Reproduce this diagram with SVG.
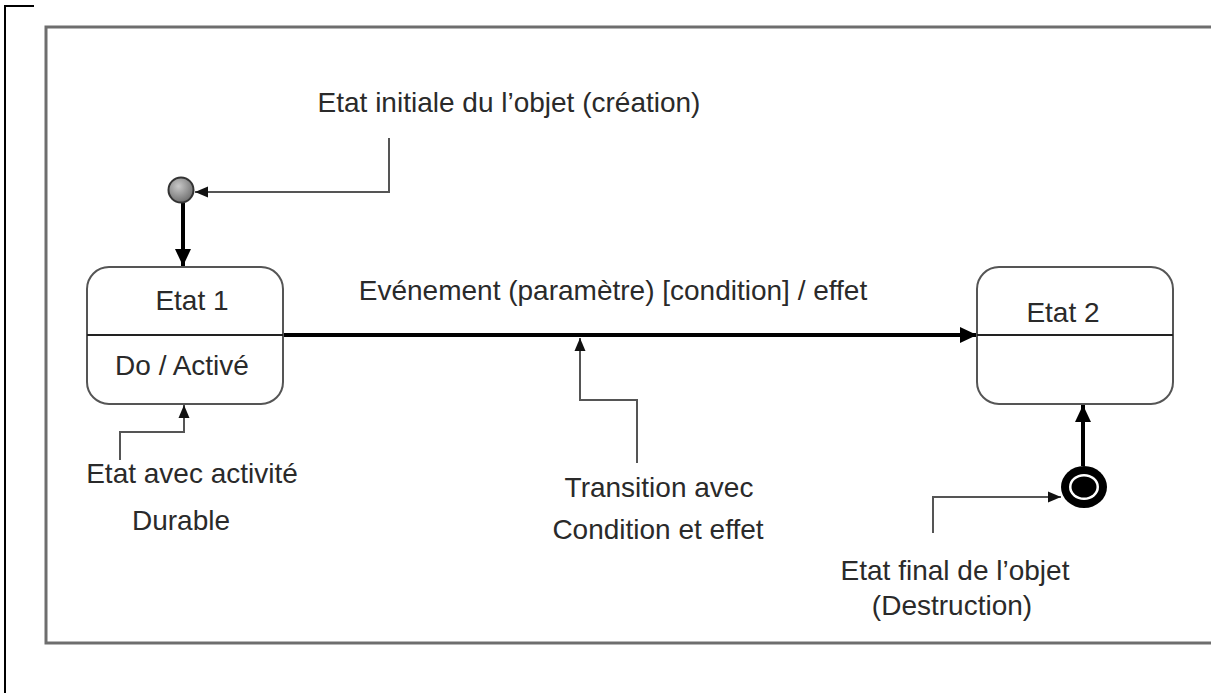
<svg xmlns="http://www.w3.org/2000/svg" width="1211" height="693" viewBox="0 0 1211 693">
  <style>
    text { font-family: "Liberation Sans", Arial, sans-serif; font-size: 28px; fill: #2a2a2a; text-anchor: middle; }
    .box { fill: #fff; stroke: #555; stroke-width: 2; }
    .div { stroke: #222; stroke-width: 2; }
    .thick { fill: none; stroke: #000; stroke-width: 4; }
    .call { fill: none; stroke: #555; stroke-width: 2; }
  </style>
  <defs>
    <marker id="big" markerUnits="userSpaceOnUse" markerWidth="18" markerHeight="18" viewBox="0 0 18 18" refX="17" refY="9" orient="auto">
      <path d="M0,1 L17,9 L0,17 Z" fill="#000"/>
    </marker>
    <marker id="small" markerUnits="userSpaceOnUse" markerWidth="14" markerHeight="14" viewBox="0 0 14 14" refX="13" refY="7" orient="auto">
      <path d="M0,1.5 L13,7 L0,12.5 Z" fill="#111"/>
    </marker>
    <radialGradient id="ini" cx="0.4" cy="0.35" r="0.7">
      <stop offset="0" stop-color="#c8c8c8"/>
      <stop offset="1" stop-color="#6a6a6a"/>
    </radialGradient>
  </defs>
  <rect width="1211" height="693" fill="#fff"/>
  <path d="M5,693 V6 H34" fill="none" stroke="#000" stroke-width="2"/>
  <rect x="46" y="27" width="1200" height="616" fill="none" stroke="#6e6e6e" stroke-width="3"/>

  <g id="connectors">
    <line class="thick" x1="183" y1="203" x2="183" y2="266" marker-end="url(#big)"/>
    <line class="thick" x1="283" y1="335" x2="977" y2="335" marker-end="url(#big)"/>
    <line class="thick" x1="1083" y1="466" x2="1083" y2="405" marker-end="url(#big)"/>
    <path class="call" d="M389,138 V192 H195" marker-end="url(#small)"/>
    <path class="call" d="M120,460 V432 H184 V405" marker-end="url(#small)"/>
    <path class="call" d="M637,463 V400 H580 V338" marker-end="url(#small)"/>
    <path class="call" d="M933,533 V497 H1061" marker-end="url(#small)"/>
  </g>

  <g id="initial">
    <circle cx="181" cy="190" r="12.5" fill="url(#ini)" stroke="#333" stroke-width="2"/>
  </g>
  <g id="etat1">
    <rect class="box" x="87" y="267" width="196" height="137" rx="22"/>
    <line class="div" x1="87" y1="335" x2="283" y2="335"/>
    <text x="192" y="310">Etat 1</text>
    <text x="182" y="375">Do / Activé</text>
  </g>
  <g id="etat2">
    <rect class="box" x="977" y="267" width="196" height="137" rx="22"/>
    <line class="div" x1="977" y1="335" x2="1173" y2="335"/>
    <text x="1063" y="322">Etat 2</text>
  </g>
  <g id="final">
    <ellipse cx="1084" cy="487" rx="23" ry="21" fill="#000"/>
    <ellipse cx="1084" cy="487" rx="15" ry="13" fill="#fff"/>
    <ellipse cx="1084" cy="487" rx="12.5" ry="10.5" fill="#000"/>
  </g>
  <g id="labels">
    <text x="509" y="112">Etat initiale du l’objet (création)</text>
    <text x="613" y="300">Evénement (paramètre) [condition] / effet</text>
    <text x="192" y="483">Etat avec activité</text>
    <text x="181" y="530">Durable</text>
    <text x="659" y="497">Transition avec</text>
    <text x="658" y="539">Condition et effet</text>
    <text x="955" y="580">Etat final de l’objet</text>
    <text x="952" y="615">(Destruction)</text>
  </g>
</svg>
